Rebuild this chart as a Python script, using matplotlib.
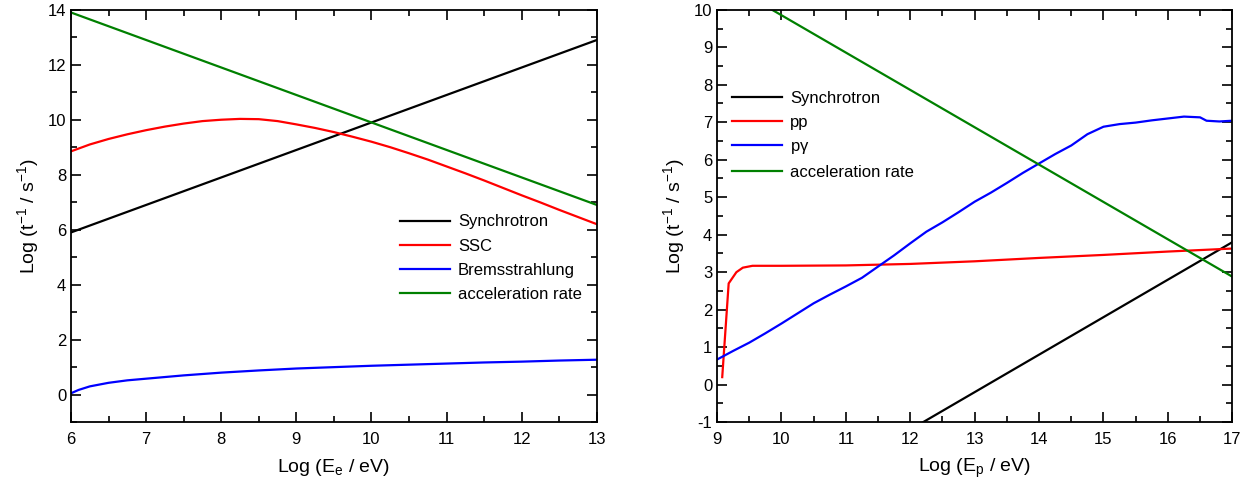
import matplotlib
matplotlib.use("Agg")
import matplotlib.pyplot as plt
from matplotlib.ticker import MultipleLocator
import numpy as np

plt.rcParams['font.family'] = ['Liberation Sans', 'DejaVu Sans']
plt.rcParams['mathtext.default'] = 'regular'
plt.rcParams['axes.unicode_minus'] = False

# ---- left panel: electrons ----
e_x = [6, 13]
e_sync = [5.9, 12.9]
e_acc = [13.9, 6.9]

ssc_x = [6, 6.25, 6.5, 6.75, 7, 7.25, 7.5, 7.75, 8, 8.25, 8.5, 8.75, 9, 9.25, 9.5, 9.75,
         10, 10.25, 10.5, 10.75, 11, 11.25, 11.5, 11.75, 12, 12.25, 12.5, 12.75, 13]
ssc_y = [8.85, 9.1, 9.3, 9.47, 9.62, 9.75, 9.86, 9.95, 10.0, 10.03, 10.02, 9.95, 9.83, 9.7,
         9.55, 9.38, 9.2, 9.0, 8.78, 8.55, 8.3, 8.05, 7.79, 7.52, 7.25, 6.99, 6.72, 6.46, 6.2]

brem_x = [6, 6.1, 6.25, 6.5, 6.75, 7, 7.5, 8, 8.5, 9, 9.5, 10, 10.5, 11, 11.5, 12, 12.5, 13]
brem_y = [0.05, 0.17, 0.3, 0.43, 0.52, 0.58, 0.7, 0.8, 0.88, 0.95, 1.0, 1.05, 1.09, 1.13,
          1.17, 1.2, 1.24, 1.27]

# ---- right panel: protons ----
p_x = [9, 17]
p_sync = [-4.2, 3.8]
p_acc = [10.85, 2.88]

pp_x = [9.08, 9.18, 9.3, 9.4, 9.55, 10, 11, 12, 13, 14, 15, 16, 17]
pp_y = [0.2, 2.7, 3.0, 3.12, 3.17, 3.17, 3.18, 3.22, 3.29, 3.38, 3.46, 3.55, 3.63]

pg_x = [9, 9.25, 9.5, 9.75, 10, 10.25, 10.5, 10.75, 11, 11.25, 11.5, 11.75, 12, 12.25, 12.5,
        12.75, 13, 13.25, 13.5, 13.75, 14, 14.25, 14.5, 14.75, 15, 15.25, 15.5, 15.75, 16,
        16.25, 16.5, 16.6, 16.8, 17]
pg_y = [0.67, 0.9, 1.12, 1.37, 1.63, 1.9, 2.17, 2.4, 2.62, 2.85, 3.15, 3.45, 3.77, 4.08, 4.33,
        4.6, 4.88, 5.12, 5.38, 5.65, 5.9, 6.15, 6.38, 6.68, 6.88, 6.95, 6.99, 7.05, 7.1,
        7.15, 7.13, 7.04, 7.02, 7.04]

fig = plt.figure(figsize=(12.46, 4.88), dpi=100)
ax1 = fig.add_axes([0.057, 0.135, 0.422, 0.845])
ax2 = fig.add_axes([0.5755, 0.135, 0.4135, 0.845])

lw = 1.6
ax1.plot(e_x, e_sync, color='black', lw=lw, label='Synchrotron')
ax1.plot(ssc_x, ssc_y, color='red', lw=lw, label='SSC')
ax1.plot(brem_x, brem_y, color='blue', lw=lw, label='Bremsstrahlung')
ax1.plot(e_x, e_acc, color='green', lw=lw, label='acceleration rate')

ax2.plot(p_x, p_sync, color='black', lw=lw, label='Synchrotron')
ax2.plot(pp_x, pp_y, color='red', lw=lw, label='pp')
ax2.plot(pg_x, pg_y, color='blue', lw=lw, label=r'p$\gamma$')
ax2.plot(p_x, p_acc, color='green', lw=lw, label='acceleration rate')

ax1.set_xlim(6, 13)
ax1.set_ylim(-1, 14)
ax1.yaxis.set_major_locator(MultipleLocator(2))
ax1.yaxis.set_minor_locator(MultipleLocator(1))
ax2.set_xlim(9, 17)
ax2.set_ylim(-1, 10)
ax2.yaxis.set_major_locator(MultipleLocator(1))
ax2.yaxis.set_minor_locator(MultipleLocator(0.5))

for ax in (ax1, ax2):
    ax.xaxis.set_major_locator(MultipleLocator(1))
    ax.xaxis.set_minor_locator(MultipleLocator(0.5))
    ax.tick_params(which='both', direction='in', top=True, right=True, labelsize=12, width=1.2)
    ax.tick_params(which='major', length=7)
    ax.tick_params(which='minor', length=4)
    ax.tick_params(axis='x', pad=7)
    for s in ax.spines.values():
        s.set_linewidth(1.3)
    ax.set_ylabel(r'Log (t$^{-1}$ / s$^{-1}$)', fontsize=14, labelpad=5)

ax1.set_xlabel(r'Log (E$_e$ / eV)', fontsize=14, labelpad=7)
ax2.set_xlabel(r'Log (E$_p$ / eV)', fontsize=14, labelpad=7)

ax1.legend(loc='upper right', bbox_to_anchor=(1.0, 0.54), frameon=False, fontsize=12,
           handlelength=3.0, handletextpad=0.5, labelspacing=0.55)
ax2.legend(loc='upper left', bbox_to_anchor=(0.0, 0.84), frameon=False, fontsize=12,
           handlelength=3.0, handletextpad=0.5, labelspacing=0.55)

fig.savefig('out.png', dpi=100)
